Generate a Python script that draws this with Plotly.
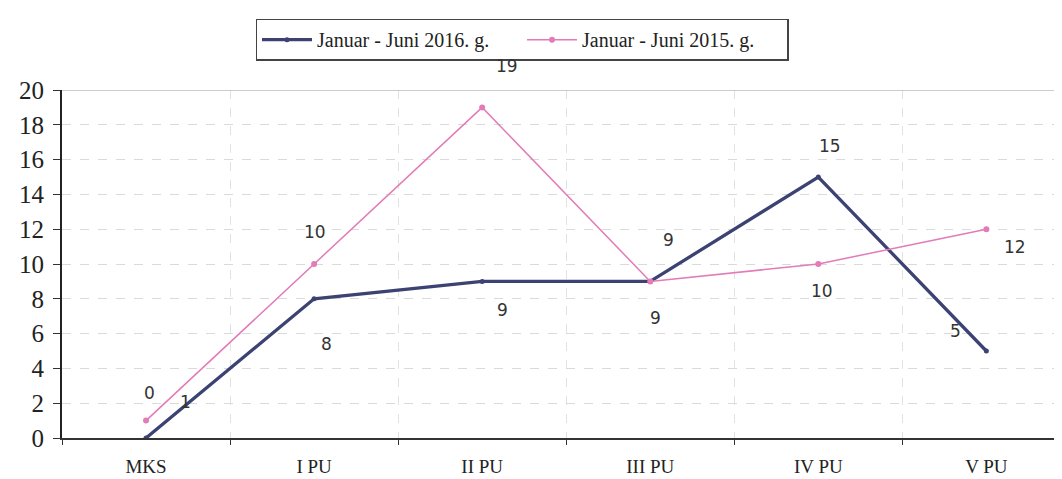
import plotly.graph_objects as go

categories = ["MKS", "I PU", "II PU", "III PU", "IV PU", "V PU"]
values_2016 = [0, 8, 9, 9, 15, 5]
values_2015 = [1, 10, 19, 9, 10, 12]
labels_2016 = ["0", "8", "9", "9", "15", "5"]
labels_2015 = ["1", "10", "19", "9", "10", "12"]
name_2016 = "Januar - Juni 2016. g."
name_2015 = "Januar - Juni 2015. g."
y_ticks = [0, 2, 4, 6, 8, 10, 12, 14, 16, 18, 20]

# label offsets in pixels (xshift, yshift)
off_2016 = [(3, 45), (12, -45), (20, -29), (18, 41), (12, 31), (-31, 20)]
off_2015 = [(39, 19), (1, 32), (25, 41), (5, -37), (4, -27), (29, -18)]

navy = "#3c4272"
pink = "#e27bb8"
serif = "Liberation Serif, Times New Roman, serif"

fig = go.Figure()
fig.add_trace(go.Scatter(x=categories, y=values_2016, name=name_2016, mode="lines+markers",
                         line=dict(color=navy, width=3.3), marker=dict(size=5, color=navy)))
fig.add_trace(go.Scatter(x=categories, y=values_2015, name=name_2015, mode="lines+markers",
                         line=dict(color=pink, width=1.5), marker=dict(size=6, color=pink)))

annots = []
for c, v, t, (dx, dy) in zip(categories, values_2016, labels_2016, off_2016):
    annots.append(dict(x=c, y=v, text=t, showarrow=False, xshift=dx, yshift=dy,
                       font=dict(family="DejaVu Sans", size=17, color="#333333")))
for c, v, t, (dx, dy) in zip(categories, values_2015, labels_2015, off_2015):
    annots.append(dict(x=c, y=v, text=t, showarrow=False, xshift=dx, yshift=dy,
                       font=dict(family="DejaVu Sans", size=17, color="#333333")))

fig.update_layout(
    width=1054, height=471,
    margin=dict(l=54, r=0, t=82, b=41),
    paper_bgcolor="white", plot_bgcolor="white",
    annotations=annots,
    showlegend=True,
    legend=dict(orientation="h", x=0.46, xanchor="center", y=1.205, yanchor="top",
                bordercolor="#444444", borderwidth=1.5, bgcolor="white",
                font=dict(family=serif, size=20, color="#222222"),
                itemwidth=50, entrywidth=200, tracegroupgap=0),
    xaxis=dict(type="category", range=[-0.5, 5.45], tickson="boundaries",
               ticks="outside", ticklen=5, tickcolor="#333333",
               showline=True, linecolor="#333333", linewidth=2,
               showgrid=True, gridcolor="#e2e2e2", griddash="dash", gridwidth=1,
               tickfont=dict(family=serif, size=19, color="#222222"),
               ticklabelstandoff=10,
               zeroline=False),
    yaxis=dict(range=[0, 20], tickvals=y_ticks, ticks="outside", ticklen=7, tickcolor="#333333",
               showline=True, linecolor="#222222", linewidth=2,
               showgrid=True, gridcolor="#dadada", griddash="dash", gridwidth=1,
               tickfont=dict(family=serif, size=25, color="#222222"),
               ticklabelstandoff=4,
               zeroline=False),
)
fig.add_shape(type="line", xref="paper", yref="y", x0=0, x1=1, y0=20, y1=20,
              line=dict(color="#bbbbbb", width=1.5))

fig.write_html("out.html")
